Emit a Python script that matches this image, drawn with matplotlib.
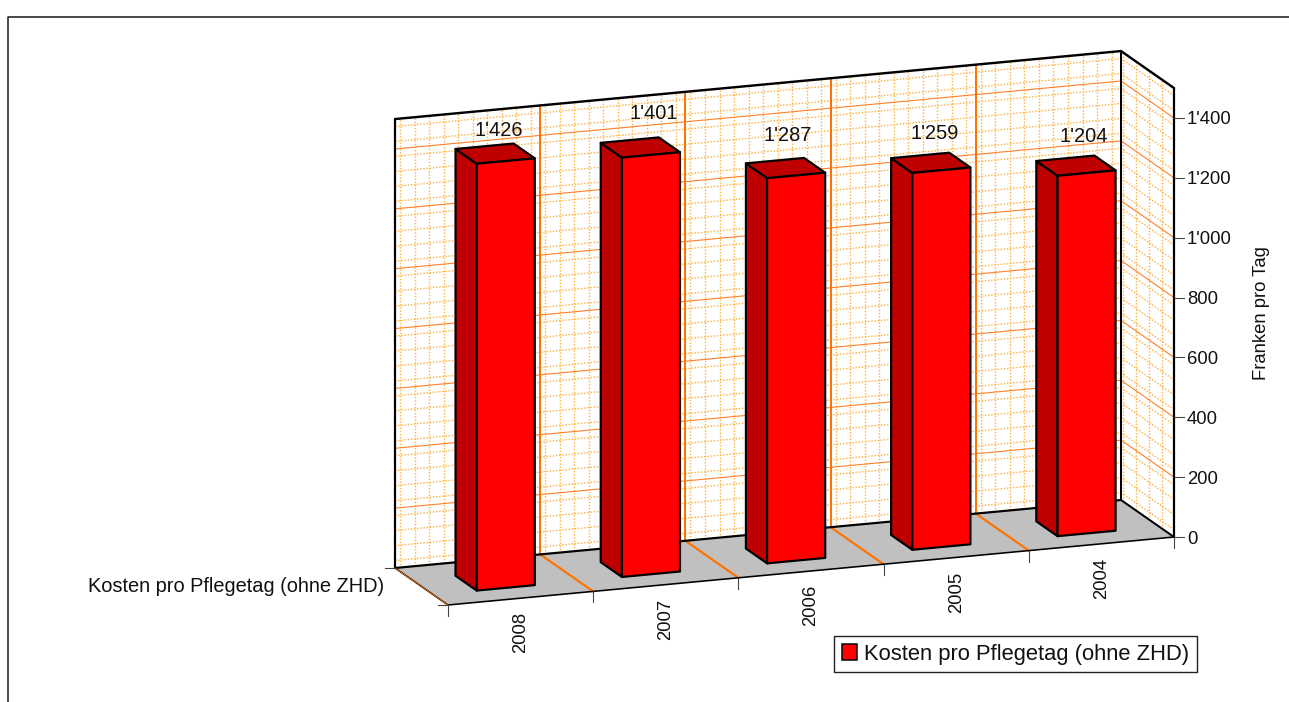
import matplotlib
matplotlib.use("Agg")
import matplotlib.pyplot as plt
from matplotlib.patches import Patch, Polygon

plt.rcParams["font.family"] = ["Liberation Sans", "DejaVu Sans"]

years = ["2008", "2007", "2006", "2005", "2004"]
kosten = [1426, 1401, 1287, 1259, 1204]
y_ticks = [0, 200, 400, 600, 800, 1000, 1200, 1400]
y_labels = ["0", "200", "400", "600", "800", "1'000", "1'200", "1'400"]
serie = "Kosten pro Pflegetag (ohne ZHD)"
y_max = 1500

# manual label shift in pixels, Excel had moved them around
label_shift = [(4, -23), (13, -34), (2, -33), (4, -29), (8, -29)]

PX = 0.72  # px to pt at dpi 100


def proj(c, d, v):
    # oblique projection: category, depth 0..1, value -> pixels
    x = 448 + 145.2 * c - 53 * d
    y = 605 - 13.6 * c - 37 * d - 0.2993 * v
    return x, y


fig = plt.figure(figsize=(12.89, 7.02), dpi=100)
ax = fig.add_axes([0, 0, 1, 1])
ax.set_xlim(0, 1289)
ax.set_ylim(702, 0)
ax.axis("off")

n = len(years)


def line(p, q, color="black", lw=2.0, z=3, **kw):
    ax.plot([p[0], q[0]], [p[1], q[1]], color=color, lw=lw * PX, zorder=z,
            solid_capstyle=kw.pop("cap", "round"), **kw)


# outer frame
ax.plot([8, 8, 1289], [702, 17, 17], color="#222222", lw=1.6 * PX, zorder=1)

# floor
ax.add_patch(Polygon([proj(0, 0, 0), proj(n, 0, 0), proj(n, 1, 0), proj(0, 1, 0)],
                     fc="#c0c0c0", ec="none", zorder=2))

# minor grid, back wall and side wall
dots = {"color": "#ffb347", "lw": 2.0 * PX, "dashes": (1, 1.2), "z": 2.5, "cap": "butt"}
v = 25
while v < y_max:
    line(proj(0, 1, v), proj(n, 1, v), **dots)
    line(proj(n, 1, v), proj(n, 0, v), **dots)
    v += 50
for i in range(n * 10):
    c = 0.035 + i * 0.1
    line(proj(c, 1, 0), proj(c, 1, y_max), **dots)
for d in [0.97, 0.72, 0.47, 0.22]:
    line(proj(n, d, 0), proj(n, d, y_max), **dots)

# major grid
for t in y_ticks[1:]:
    line(proj(0, 1, t), proj(n, 1, t), color="#ff7f27", lw=1.1, z=2.7)
    line(proj(n, 1, t), proj(n, 0, t), color="#ff7f27", lw=1.1, z=2.7)
for i in range(1, n):
    line(proj(i, 1, 0), proj(i, 1, y_max), color="#ff7300", lw=2.0, z=2.8)
    line(proj(i, 1, 0), proj(i, 0, 0), color="#ff7300", lw=2.2, z=2.8)

# wall and floor outline
line(proj(0, 1, 0), proj(0, 1, y_max), lw=2.2)
line(proj(0, 1, y_max), proj(n, 1, y_max), lw=2.4)
line(proj(n, 1, y_max), proj(n, 0, y_max), lw=2.4)
line(proj(n, 0, y_max), proj(n, 0, 0), lw=2.2)
line(proj(n, 1, 0), proj(n, 1, y_max), lw=2.0)
line(proj(0, 1, 0), proj(n, 1, 0), lw=2.2)
line(proj(n, 1, 0), proj(n, 0, 0), lw=2.0)
line(proj(0, 0, 0), proj(n, 0, 0), lw=1.6)
line(proj(0, 1, 0), proj(0, 0, 0), lw=1.6)
line(proj(0, 1, 0), proj(0, 0, 0), color="#ff7300", lw=0.8)

# ticks
for i in range(n + 1):
    x, y = proj(i, 0, 0)
    ax.plot([x, x], [y, y + 11], color="#444444", lw=1.1 * PX, zorder=3)
for d in [0, 1]:
    x, y = proj(0, d, 0)
    ax.plot([x - 10, x], [y, y], color="#444444", lw=1.1 * PX, zorder=3)
for t, lab in zip(y_ticks, y_labels):
    x, y = proj(n, 0, t)
    ax.plot([x, x + 10], [y, y], color="#444444", lw=1.1 * PX, zorder=3)
    ax.text(x + 13, y, lab, ha="left", va="center_baseline", fontsize=18.5 * PX,
            color="#111111", zorder=6)

# bars
bw = 0.4
d0, d1 = 0.28, 0.68
for i, val in enumerate(kosten):
    c0, c1 = i + 0.3, i + 0.3 + bw
    style = {"ec": "black", "lw": 2.2 * PX, "joinstyle": "round", "zorder": 4 + i * 0.1}
    ax.add_patch(Polygon([proj(c0, d0, 0), proj(c0, d1, 0), proj(c0, d1, val), proj(c0, d0, val)],
                         fc="#bf0000", **style))
    ax.add_patch(Polygon([proj(c0, d0, val), proj(c0, d1, val), proj(c1, d1, val), proj(c1, d0, val)],
                         fc="#bf0000", **style))
    ax.add_patch(Polygon([proj(c0, d0, 0), proj(c1, d0, 0), proj(c1, d0, val), proj(c0, d0, val)],
                         fc="#ff0000", **style))
    x, y = proj(i + 0.5, 0.48, val)
    dx, dy = label_shift[i]
    ax.text(x + dx, y + dy, f"{val // 1000}'{val % 1000:03d}", ha="center", va="center",
            fontsize=20 * PX, color="#111111", zorder=6)

# category labels
for i, yr in enumerate(years):
    x, y = proj(i + 0.5, 0, 0)
    ax.text(x, y + 14, yr, rotation=90, ha="center", va="top", fontsize=18.5 * PX,
            color="#111111", zorder=6)

ax.text(384, 587, serie, ha="right", va="center", fontsize=20 * PX, color="#111111")
ax.text(1261, 313, "Franken pro Tag", rotation=90, ha="center", va="center",
        fontsize=18.5 * PX, color="#111111")

ax.legend(handles=[Patch(fc="#ff0000", ec="black", lw=1.5 * PX, label=serie)],
          loc="upper left", bbox_to_anchor=(834, 636), bbox_transform=ax.transData,
          borderaxespad=0, fontsize=22 * PX, fancybox=False, framealpha=1, edgecolor="#222222",
          handlelength=0.7, handleheight=0.7, handletextpad=0.3, borderpad=0.35,
          labelcolor="#111111")

fig.savefig("out.png", dpi=100)
